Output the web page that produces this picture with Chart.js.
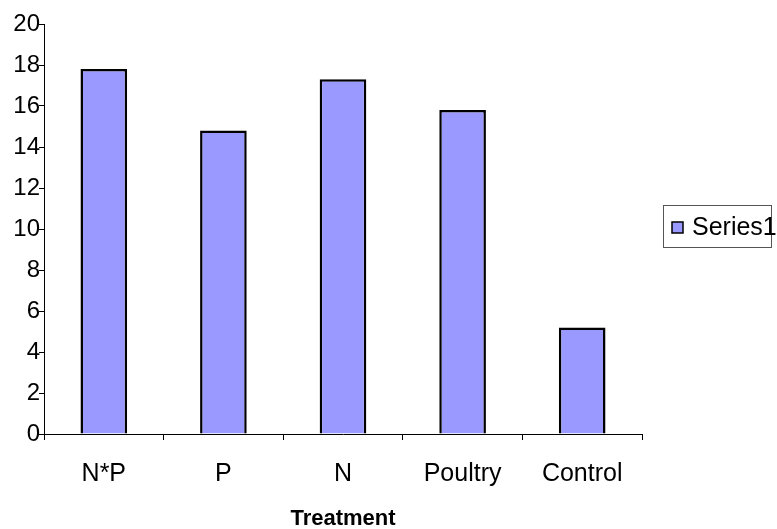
<!DOCTYPE html>
<html>
<head>
<meta charset="utf-8">
<script src="https://cdn.jsdelivr.net/npm/chart.js@4"></script>
<style>
  html, body { margin: 0; padding: 0; background: #fff; }
  #wrap { width: 777px; height: 529px; }
</style>
</head>
<body>
<div id="wrap"><canvas id="bars" width="777" height="529"></canvas></div>
<script>
const categories = ["N*P", "P", "N", "Poultry", "Control"];
const series1 = [17.8, 14.8, 17.3, 15.8, 5.2];
const seriesName = "Series1";
const yTicks = [0, 2, 4, 6, 8, 10, 12, 14, 16, 18, 20];

const fontFamily = "'Liberation Sans', Arial, sans-serif";

// legend with a border box, drawn by hand on the right
const boxLegend = {
  id: "boxLegend",
  afterDraw(chart) {
    const ctx = chart.ctx;
    const ds = chart.data.datasets[0];
    ctx.save();
    ctx.strokeStyle = "#555";
    ctx.lineWidth = 1;
    ctx.strokeRect(663.5, 205.5, 108, 42);
    ctx.fillStyle = ds.backgroundColor;
    ctx.fillRect(672, 222, 11, 11);
    ctx.strokeStyle = "#000";
    ctx.lineWidth = 1.5;
    ctx.strokeRect(672, 222, 11, 11);
    ctx.fillStyle = "#000";
    ctx.font = "25px " + fontFamily;
    ctx.textBaseline = "middle";
    ctx.fillText(ds.label, 692, 228);
    ctx.restore();
  }
};

new Chart(document.getElementById("bars"), {
  type: "bar",
  data: {
    labels: categories,
    datasets: [
      {
        label: seriesName,
        data: series1,
        backgroundColor: "#9999FF",
        borderColor: "#000000",
        borderWidth: 2.5,
        barPercentage: 0.39,
        categoryPercentage: 1.0,
      },
    ],
  },
  options: {
    responsive: false,
    animation: false,
    layout: { padding: { left: 0, right: 135, top: 24, bottom: 0 } },
    plugins: {
      legend: { display: false },
      tooltip: { enabled: false },
    },
    scales: {
      x: {
        offset: true,
        grid: {
          offset: true,
          drawOnChartArea: false,
          drawTicks: true,
          tickLength: 6,
          color: "#000",
        },
        border: { color: "#000", width: 1 },
        ticks: {
          color: "#000",
          padding: 19,
          font: { family: fontFamily, size: 25 },
        },
        title: {
          display: true,
          text: "Treatment",
          color: "#000",
          font: { family: fontFamily, size: 22, weight: "bold" },
          padding: { top: 0, bottom: -3 },
        },
        afterFit(s) { s.height = 95; },
      },
      y: {
        min: 0,
        max: 20,
        afterBuildTicks(s) { s.ticks = yTicks.map(v => ({ value: v })); },
        grid: {
          drawOnChartArea: false,
          drawTicks: true,
          tickLength: 5,
          color: "#000",
        },
        border: { color: "#000", width: 1 },
        ticks: {
          color: "#000",
          padding: -1,
          font: { family: fontFamily, size: 24 },
        },
        afterFit(s) { s.width = 44; },
      },
    },
  },
  plugins: [boxLegend],
});
</script>
</body>
</html>
